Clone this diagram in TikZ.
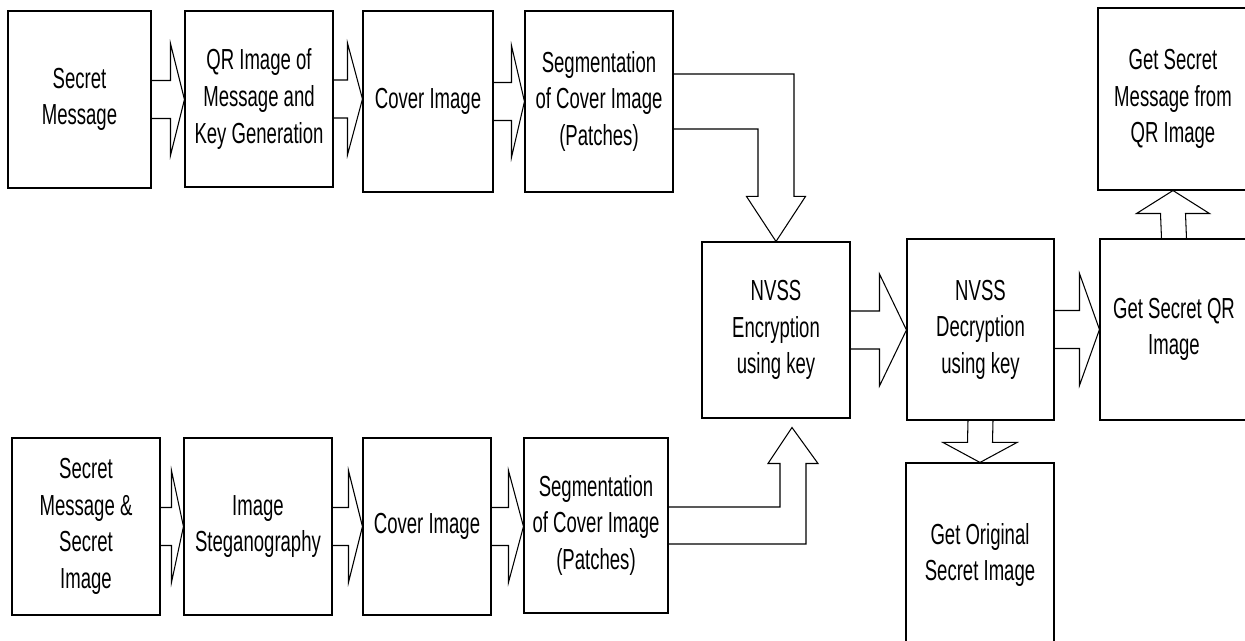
\documentclass[tikz,border=0pt]{standalone}
\usepackage{fontspec}
\setmainfont{Liberation Sans}[FakeStretch=0.64]
\usetikzlibrary{calc}

% block arrow between two boxes of one row
\newcommand{\harrow}[3]{%
  \draw ($(#1.east)+(0,-19)$) -- ($(#2.west |- #1.east)+(-#3,-19)$)
    -- ($(#2.west |- #1.east)+(-#3,-56)$) -- (#2.west |- #1.east)
    -- ($(#2.west |- #1.east)+(-#3,56)$) -- ($(#2.west |- #1.east)+(-#3,19)$)
    -- ($(#1.east)+(0,19)$);}

\begin{document}
\begin{tikzpicture}[x=0.02cm, y=-0.02cm, line width=0.6pt,
    box/.style 2 args={draw, align=center, inner sep=0pt,
      minimum width=#1*0.02cm, minimum height=#2*0.02cm,
      font=\fontsize{16.5}{20.8}\selectfont}]
    \useasboundingbox (0,0) rectangle (1245,641);
    \clip (0,0) rectangle (1245,641);

    % Top row
    \node[box={143}{177}] (msg)  at (79.5,99.5) {Secret\\Message};
    \node[box={148}{176}] (qr)   at (259,99)    {QR Image of\\Message and\\Key Generation};
    \node[box={130}{181}] (cov1) at (428,101.5) {Cover Image};
    \node[box={148}{181}] (seg1) at (599,101.5) {Segmentation\\of Cover Image\\(Patches)};

    % Bottom row
    \node[box={148}{177}] (msg2) at (86,526.5)  {Secret\\Message \&\\Secret\\Image};
    \node[box={148}{177}] (steg) at (258,526.5) {Image\\Steganography};
    \node[box={128}{177}] (cov2) at (427,526.5) {Cover Image};
    \node[box={144}{175}] (seg2) at (596,525.5) {Segmentation\\of Cover Image\\(Patches)};

    % NVSS and outputs
    \node[box={148}{176}] (enc)    at (776,330)    {NVSS\\Encryption\\using key};
    \node[box={147}{181}] (dec)    at (980.5,329.5) {NVSS\\Decryption\\using key};
    \node[box={148}{181}] (qrget)  at (1174,329.5) {Get Secret QR\\Image};
    \node[box={150}{182}] (msgget) at (1173,99)    {Get Secret\\Message from\\QR Image};
    \node[box={148}{184}] (orig)   at (980,555)    {Get Original\\Secret Image};

    % Arrows
    \harrow{msg}{qr}{14}
    \harrow{qr}{cov1}{15}
    \harrow{cov1}{seg1}{13}
    \harrow{msg2}{steg}{12}
    \harrow{steg}{cov2}{14}
    \harrow{cov2}{seg2}{15}
    \harrow{enc}{dec}{27}
    \harrow{dec}{qrget}{20}

    \draw ($(seg1.east)+(0,-27.5)$) -| ($(enc.north)+(18,-45)$) -- ($(enc.north)+(29.5,-45)$)
      -- (enc.north) -- ($(enc.north)+(-29.5,-45)$) -- ($(enc.north)+(-18,-45)$)
      |- ($(seg1.east)+(0,27.5)$);
    \coordinate (tipb) at ($(enc.south)+(16,9)$);
    \draw ($(seg2.east)+(0,-18.5)$) -| ($(tipb)+(-12,36)$) -- ($(tipb)+(-24,36)$)
      -- (tipb) -- ($(tipb)+(26,36)$) -- ($(tipb)+(14,36)$)
      |- ($(seg2.east)+(0,18.5)$);

    \draw ($(dec.south)+(-12.5,0)$) -- ($(orig.north)+(-12.5,-20)$) -- ($(orig.north)+(-37,-20)$)
      -- (orig.north) -- ($(orig.north)+(37,-20)$) -- ($(orig.north)+(12.5,-20)$)
      -- ($(dec.south)+(12.5,0)$);
    \draw ($(qrget.north)+(-12.5,0)$) -- ($(msgget.south)+(-12.5,23)$) -- ($(msgget.south)+(-36.5,23)$)
      -- (msgget.south) -- ($(msgget.south)+(36.5,23)$) -- ($(msgget.south)+(12.5,23)$)
      -- ($(qrget.north)+(12.5,0)$);
\end{tikzpicture}
\end{document}
